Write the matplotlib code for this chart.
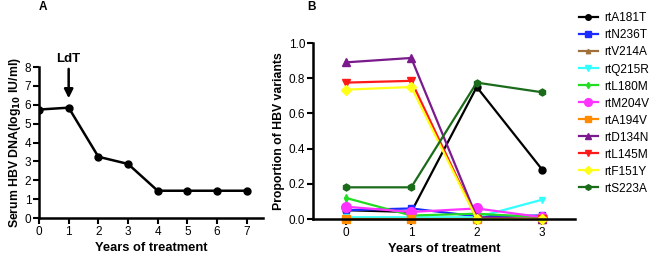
import matplotlib
matplotlib.use("Agg")
import matplotlib.pyplot as plt
import numpy as np

plt.rcParams['font.family'] = ['Liberation Sans', 'DejaVu Sans']

# Panel A data
years_a = [0, 1, 2, 3, 4, 5, 6, 7]
hbv_dna = [5.75, 5.85, 3.25, 2.87, 1.45, 1.45, 1.45, 1.45]

# Panel B data
years_b = [0, 1, 2, 3]
variant_names = ["rtA181T", "rtN236T", "rtV214A", "rtQ215R", "rtL180M", "rtM204V",
                 "rtA194V", "rtD134N", "rtL145M", "rtF151Y", "rtS223A"]
rtA181T = [0.05, 0.04, 0.75, 0.28]
rtN236T = [0.05, 0.06, 0.015, 0.02]
rtV214A = [0.0, 0.0, 0.0, 0.0]
rtQ215R = [0.01, 0.01, 0.01, 0.11]
rtL180M = [0.12, 0.02, 0.03, 0.01]
rtM204V = [0.07, 0.04, 0.06, 0.01]
rtA194V = [0.0, 0.0, 0.0, 0.0]
rtD134N = [0.89, 0.915, 0.01, 0.0]
rtL145M = [0.775, 0.785, 0.0, 0.0]
rtF151Y = [0.735, 0.75, 0.0, 0.0]
rtS223A = [0.18, 0.18, 0.775, 0.72]
series = [rtA181T, rtN236T, rtV214A, rtQ215R, rtL180M, rtM204V,
          rtA194V, rtD134N, rtL145M, rtF151Y, rtS223A]
colors = ["#000000", "#1a2cff", "#a0703a", "#33ffff", "#22dd22", "#ff33ff",
          "#ff8c00", "#7a1a8c", "#ff1a1a", "#ffff1a", "#1a6b1a"]
markers = ["o", "s", "^", "v", "d", "o", "s", "^", "v", "D", "h"]
msizes = [5, 5, 4, 5, 4, 7, 6, 6, 6, 5, 5]

fig = plt.figure(figsize=(6.5, 2.56), dpi=100)

def style(ax):
    for s in ["top", "right"]:
        ax.spines[s].set_visible(False)
    for s in ["left", "bottom"]:
        ax.spines[s].set_linewidth(1.8)
    ax.tick_params(width=1.5, length=4, labelsize=8.5, pad=1.5)

axA = fig.add_axes([0.06, 0.148, 0.3446, 0.59])
axA.plot(years_a, hbv_dna, color="black", lw=1.8, marker="o", ms=5)
axA.set_xlim(0, 7.55)
axA.set_ylim(0, 8)
axA.set_xticks(range(0, 8))
axA.set_yticks(range(0, 9))
style(axA)
axA.set_xlabel("Years of treatment", fontsize=9.3, fontweight="bold", labelpad=3)
axA.set_ylabel("Serum HBV DNA(log$_{\\mathbf{10}}$ IU/ml)", fontsize=8.8, fontweight="bold", labelpad=1)
axA.annotate("", xy=(1, 6.2), xytext=(1, 8.05),
             arrowprops=dict(arrowstyle="-|>", color="black", lw=1.8, mutation_scale=13),
             annotation_clip=False)
axA.text(1, 8.1, "LdT", ha="center", va="bottom", fontsize=9.5, fontweight="bold")
fig.text(39/650, 1-7/256, "A", fontsize=8.5, fontweight="bold", ha="left", va="center")

axB = fig.add_axes([0.4815, 0.1445, 0.4031, 0.6875])
for name, vals, c, m, ms in zip(variant_names, series, colors, markers, msizes):
    axB.plot(years_b, vals, color=c, lw=1.6, marker=m, ms=ms, label=name, clip_on=False)
axB.set_xlim(-0.5, 3.5)
axB.set_ylim(0, 1.0)
axB.set_xticks(years_b)
axB.set_yticks(np.arange(0, 1.01, 0.2))
axB.yaxis.set_major_formatter(matplotlib.ticker.FormatStrFormatter("%.1f"))
style(axB)
axB.set_xlabel("Years of treatment", fontsize=9.3, fontweight="bold", labelpad=3)
axB.set_ylabel("Proportion of HBV variants", fontsize=8.8, fontweight="bold", labelpad=3)
fig.text(307/650, 1-7/256, "B", fontsize=8.5, fontweight="bold", ha="left", va="center")

fig.legend(loc="upper left", bbox_to_anchor=(0.883, 0.97), frameon=False, fontsize=8.6,
           handlelength=1.6, labelspacing=0.42, handletextpad=0.5, borderaxespad=0,
           markerscale=0.8)

fig.savefig("out.png", dpi=100)
